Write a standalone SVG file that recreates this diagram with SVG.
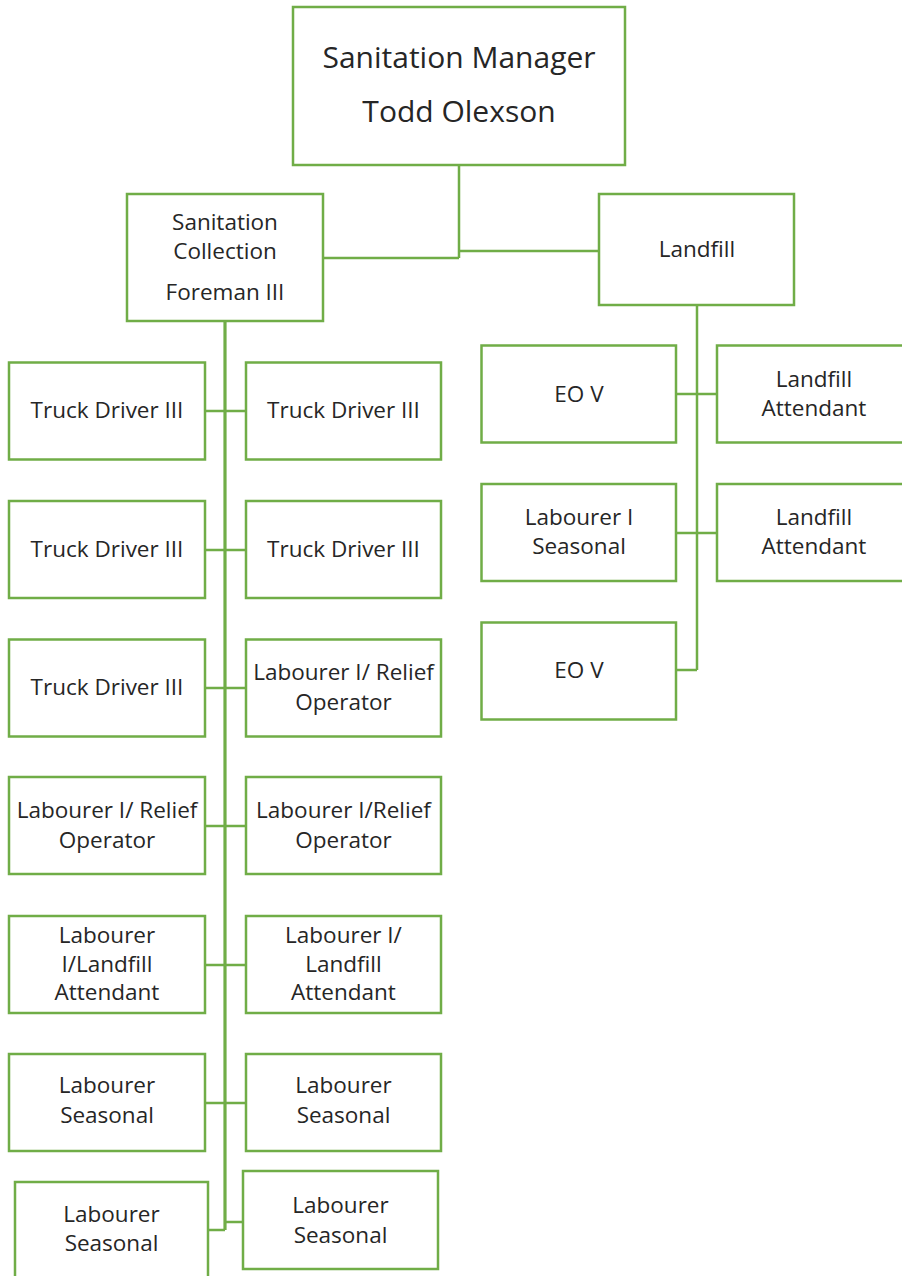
<svg xmlns="http://www.w3.org/2000/svg" width="902" height="1276" viewBox="0 0 902 1276">
<style>
.box{fill:#ffffff;stroke:#70ad47;stroke-width:2.5}
.ln{stroke:#70ad47;stroke-width:2.5;fill:none}
.trunk{stroke:#70ad47;stroke-width:3.2;fill:none}
text{font-family:"Open Sans","Liberation Sans",sans-serif;fill:#262626;text-anchor:middle}
.s{font-size:22.5px}
.l{font-size:30px}
</style>
<rect width="902" height="1276" fill="#ffffff"/>
<g id="connectors">
<path class="ln" d="M459,166V258M323,258H459M459,251H599"/>
<path class="trunk" d="M225,321V1230"/>
<path class="ln" d="M205,411H246M205,550H246M205,688H246M205,826H246M205,965H246M205,1103H246M208,1230H225M225,1222H243"/>
<path class="ln" d="M697,305V670M676,394H717M676,533H717M676,670H697"/>
</g>
<g id="manager"><rect class="box" x="293" y="7" width="332" height="158"/><text class="l" x="459" y="68">Sanitation Manager</text><text class="l" x="459" y="122">Todd Olexson</text></g>
<g id="foreman"><rect class="box" x="127" y="194" width="196" height="127"/><text class="s" x="225" y="230">Sanitation</text><text class="s" x="225" y="259">Collection</text><text class="s" x="225" y="300">Foreman III</text></g>
<g id="landfill"><rect class="box" x="599" y="194" width="195" height="111"/><text class="s" x="697" y="257">Landfill</text></g>

<g id="l1"><rect class="box" x="9" y="362.5" width="196" height="97"/><text class="s" x="107" y="418">Truck Driver III</text></g>
<g id="r1"><rect class="box" x="246" y="362.5" width="195" height="97"/><text class="s" x="343.5" y="418">Truck Driver III</text></g>
<g id="l2"><rect class="box" x="9" y="501" width="196" height="97"/><text class="s" x="107" y="557">Truck Driver III</text></g>
<g id="r2"><rect class="box" x="246" y="501" width="195" height="97"/><text class="s" x="343.5" y="557">Truck Driver III</text></g>
<g id="l3"><rect class="box" x="9" y="639.5" width="196" height="97"/><text class="s" x="107" y="695">Truck Driver III</text></g>
<g id="r3"><rect class="box" x="246" y="639.5" width="195" height="97"/><text class="s" x="343.5" y="680">Labourer I/ Relief</text><text class="s" x="343.5" y="710">Operator</text></g>
<g id="l4"><rect class="box" x="9" y="777" width="196" height="97"/><text class="s" x="107" y="818">Labourer I/ Relief</text><text class="s" x="107" y="848">Operator</text></g>
<g id="r4"><rect class="box" x="246" y="777" width="195" height="97"/><text class="s" x="343.5" y="818">Labourer I/Relief</text><text class="s" x="343.5" y="848">Operator</text></g>
<g id="l5"><rect class="box" x="9" y="916" width="196" height="97"/><text class="s" x="107" y="943">Labourer</text><text class="s" x="107" y="972">I/Landfill</text><text class="s" x="107" y="1000">Attendant</text></g>
<g id="r5"><rect class="box" x="246" y="916" width="195" height="97"/><text class="s" x="343.5" y="943">Labourer I/</text><text class="s" x="343.5" y="972">Landfill</text><text class="s" x="343.5" y="1000">Attendant</text></g>
<g id="l6"><rect class="box" x="9" y="1054" width="196" height="97"/><text class="s" x="107" y="1093">Labourer</text><text class="s" x="107" y="1123">Seasonal</text></g>
<g id="r6"><rect class="box" x="246" y="1054" width="195" height="97"/><text class="s" x="343.5" y="1093">Labourer</text><text class="s" x="343.5" y="1123">Seasonal</text></g>
<g id="l7"><rect class="box" x="15" y="1182" width="193" height="110"/><text class="s" x="111.5" y="1222">Labourer</text><text class="s" x="111.5" y="1251">Seasonal</text></g>
<g id="r7"><rect class="box" x="243" y="1171" width="195" height="98"/><text class="s" x="340.5" y="1213">Labourer</text><text class="s" x="340.5" y="1243">Seasonal</text></g>

<g id="eo1"><rect class="box" x="481.5" y="345.5" width="194.5" height="97"/><text class="s" x="579" y="402">EO V</text></g>
<g id="la1"><rect class="box" x="717" y="345.5" width="195" height="97"/><text class="s" x="814" y="387">Landfill</text><text class="s" x="814" y="416">Attendant</text></g>
<g id="ls"><rect class="box" x="481.5" y="484" width="194.5" height="97"/><text class="s" x="579" y="525">Labourer I</text><text class="s" x="579" y="554">Seasonal</text></g>
<g id="la2"><rect class="box" x="717" y="484" width="195" height="97"/><text class="s" x="814" y="525">Landfill</text><text class="s" x="814" y="554">Attendant</text></g>
<g id="eo2"><rect class="box" x="481.5" y="622.5" width="194.5" height="97"/><text class="s" x="579" y="678">EO V</text></g>
</svg>
